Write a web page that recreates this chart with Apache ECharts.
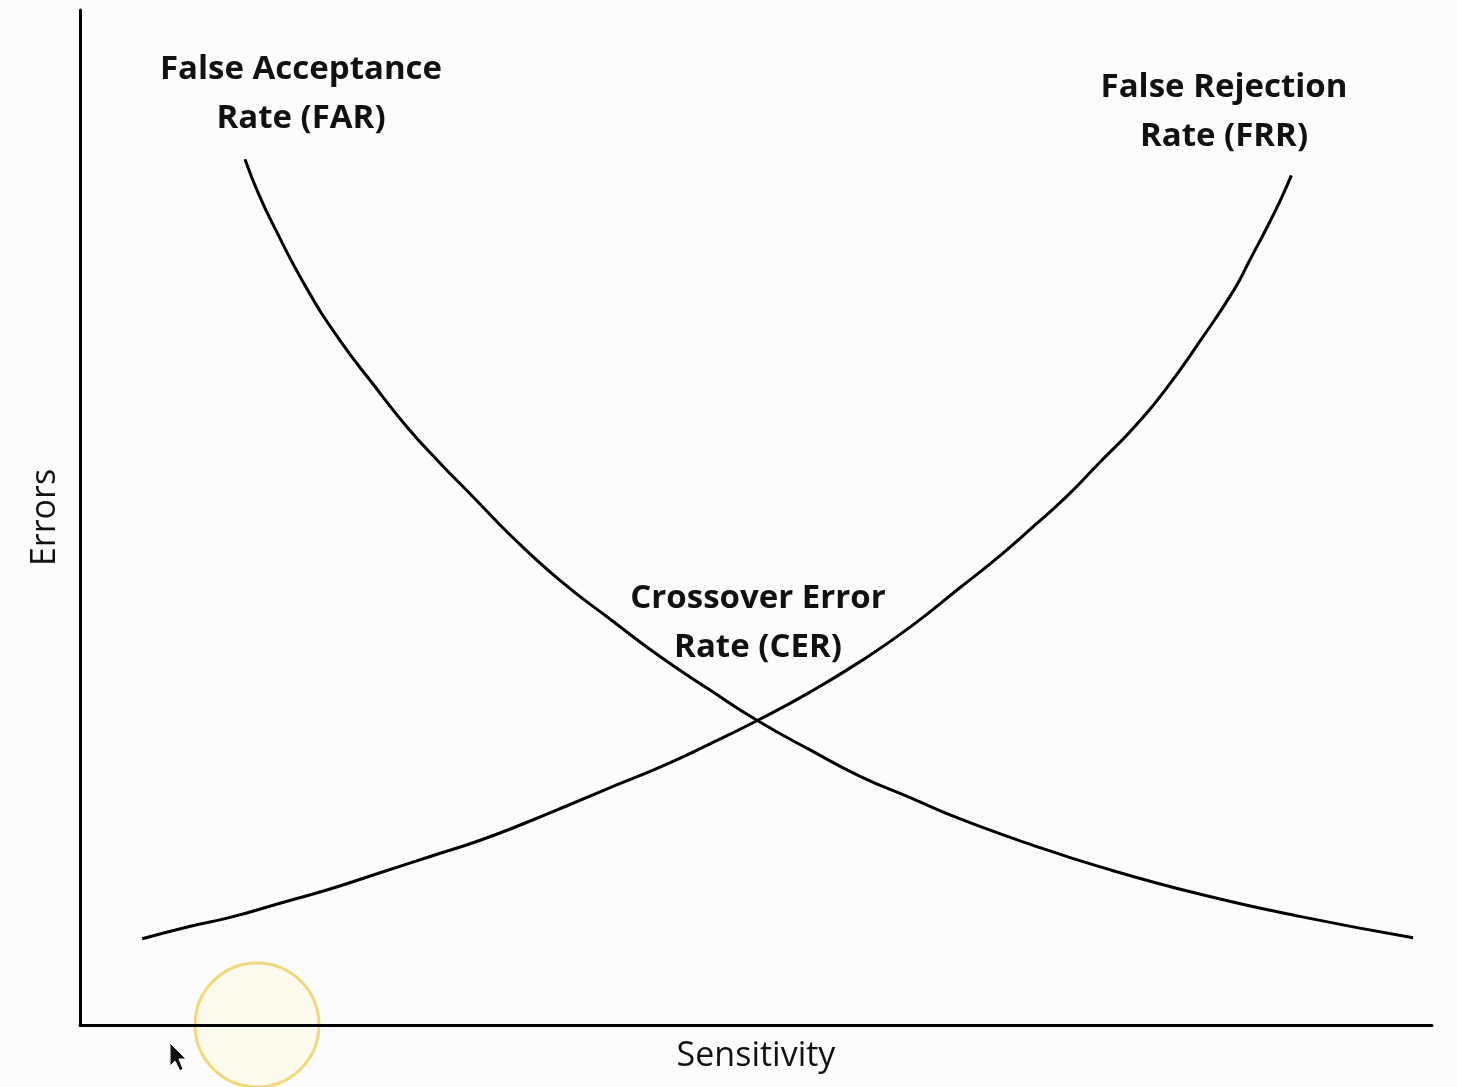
<!DOCTYPE html>
<html>
<head>
<meta charset="utf-8">
<script src="https://cdn.jsdelivr.net/npm/echarts@6/dist/echarts.min.js"></script>
<style>
  html, body { margin: 0; padding: 0; background: #fbfcfb; }
  #chart { width: 1457px; height: 1087px; }
</style>
</head>
<body>
<div id="chart"></div>
<script>
// Sensitivity (x) and Errors (y), arbitrary 0-100 units
const farX = [12.2, 13.2, 14.3, 16.8, 19.2, 21.7, 24.2, 26.6, 29.1, 31.8, 35.5, 39.2, 42.9, 46.6, 50.1, 54.0, 57.7, 61.4, 65.1, 70.3, 75.4, 82.8, 90.2, 98.6];
const farY = [85.3, 81.9, 78.8, 72.5, 67.5, 63.1, 58.9, 55.4, 52.0, 48.3, 43.8, 40.0, 36.3, 33.0, 30.0, 27.1, 24.5, 22.4, 20.3, 17.8, 15.6, 12.9, 10.7, 8.6];

const frrX = [4.6, 8.1, 11.1, 14.8, 18.5, 22.2, 25.9, 29.6, 33.3, 36.2, 39.6, 42.9, 46.6, 50.1, 54.0, 57.7, 61.4, 65.1, 68.1, 70.5, 73.0, 75.4, 77.9, 80.4, 82.8, 85.3, 86.5, 87.8, 88.8, 89.6];
const frrY = [8.5, 9.7, 10.6, 12.0, 13.4, 15.0, 16.6, 18.2, 20.1, 21.7, 23.6, 25.4, 27.7, 30.0, 32.8, 35.8, 39.2, 43.1, 46.3, 49.1, 52.1, 55.4, 58.8, 62.8, 67.3, 72.3, 75.3, 78.6, 81.3, 83.7];

const labelFAR = ['False Acceptance', 'Rate (FAR)'];
const labelFRR = ['False Rejection', 'Rate (FRR)'];
const labelCER = ['Crossover Error', 'Rate (CER)'];
const xName = 'Sensitivity';
const yName = 'Errors';

const pairs = (xs, ys) => xs.map((x, i) => [x, ys[i]]);

const chart = echarts.init(document.getElementById('chart'));
const font = '"Open Sans", "Noto Sans", sans-serif';

const lineStyle = { color: '#000', width: 3 };
const labelStyle = { font: 'bold 33px ' + font, fill: '#111', align: 'center', lineHeight: 49 };

chart.setOption({
  backgroundColor: '#fbfcfb',
  animation: false,
  grid: { left: 80, right: 25, top: 10, bottom: 62 },
  xAxis: {
    type: 'value', min: 0, max: 100,
    name: xName, nameLocation: 'middle', nameGap: 14,
    nameTextStyle: { fontFamily: font, fontSize: 34, color: '#111' },
    axisLine: { show: true, lineStyle: { color: '#000', width: 3 } },
    axisTick: { show: false }, axisLabel: { show: false }, splitLine: { show: false }
  },
  yAxis: {
    type: 'value', min: 0, max: 100,
    name: yName, nameLocation: 'middle', nameGap: 18, nameRotate: 90,
    nameTextStyle: { fontFamily: font, fontSize: 34, color: '#111' },
    axisLine: { show: true, lineStyle: { color: '#000', width: 3 } },
    axisTick: { show: false }, axisLabel: { show: false }, splitLine: { show: false }
  },
  series: [
    { name: 'FAR', type: 'line', data: pairs(farX, farY), smooth: 0.5, showSymbol: false, lineStyle: lineStyle },
    { name: 'FRR', type: 'line', data: pairs(frrX, frrY), smooth: 0.5, showSymbol: false, lineStyle: lineStyle }
  ],
  graphic: [
    { type: 'text', style: Object.assign({ x: 301, y: 45, text: labelFAR.join('\n') }, labelStyle) },
    { type: 'text', style: Object.assign({ x: 1224, y: 63, text: labelFRR.join('\n') }, labelStyle) },
    { type: 'text', style: Object.assign({ x: 758, y: 574, text: labelCER.join('\n') }, labelStyle) },
    { type: 'circle', shape: { cx: 257, cy: 1025, r: 62 }, style: { fill: 'rgba(255,248,215,0.35)', stroke: 'rgba(235,195,60,0.65)', lineWidth: 3 } },
    { type: 'polygon', shape: { points: [[170, 1043], [170, 1066], [175, 1061], [180, 1071], [183, 1069], [179, 1059], [186, 1059]] }, style: { fill: '#111', stroke: '#fff', lineWidth: 1 } }
  ]
});
</script>
</body>
</html>
